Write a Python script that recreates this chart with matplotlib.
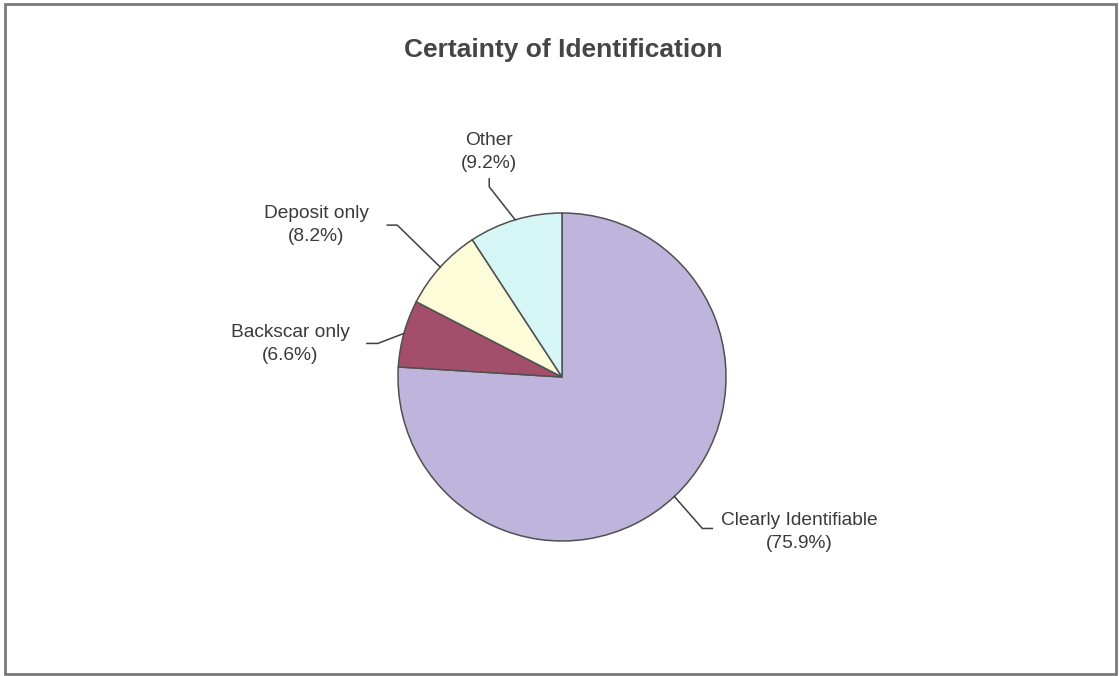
import matplotlib.pyplot as plt
import numpy as np

labels = ['Clearly Identifiable', 'Backscar only', 'Deposit only', 'Other']
shares = [75.9, 6.6, 8.2, 9.2]
colors = ['#bfb4dc', '#a34f6b', '#fdfcd8', '#d6f5f5']
title = 'Certainty of Identification'

W, H = 1119, 676
fig = plt.figure(figsize=(W / 100, H / 100), dpi=100)
ax = fig.add_axes([0, 0, 1, 1])

cx, cy, r = 562, H - 377, 164
wedges, _ = ax.pie(shares, colors=colors, startangle=90, counterclock=False,
                   center=(cx, cy), radius=r, frame=True,
                   wedgeprops=dict(edgecolor='#505050', linewidth=1.1))
ax.set_xlim(0, W)
ax.set_ylim(0, H)
ax.axis('off')

# label layout: text centre, elbow offset from edge point, tail offset from elbow
layout = {
    'Clearly Identifiable': ((799, 532), (28, -32), (10, 0)),
    'Backscar only': ((290, 344), (-26, -10), (-11, 0)),
    'Deposit only': ((316, 225), (-43, 42), (-10, 0)),
    'Other': ((489, 152), (-26, 33), (0, 8)),
}

for w, lab, val in zip(wedges, labels, shares):
    ang = np.deg2rad((w.theta1 + w.theta2) / 2)
    ex, ey = cx + r * np.cos(ang), cy + r * np.sin(ang)
    (tx, ty), (dx, dy), (tdx, tdy) = layout[lab]
    bx, by = ex + dx, ey + dy
    ax.plot([ex, bx, bx + tdx], [ey, by, by + tdy], color='#404040', lw=1.1)
    ax.text(tx, H - ty, f'{lab}\n({val}%)', ha='center', va='center',
            multialignment='center', fontsize=13.8, family='Liberation Sans',
            color='#3a3a3a', linespacing=1.4)

ax.text(563, H - 50, title, ha='center', va='center', fontsize=19,
        fontweight='bold', family='Liberation Sans', color='#454545')

ax.add_patch(plt.Rectangle((5, 2), W - 8, H - 6, fill=False,
                           edgecolor='#7a7a7a', lw=2))

fig.savefig('out.png', dpi=100, facecolor='white')
